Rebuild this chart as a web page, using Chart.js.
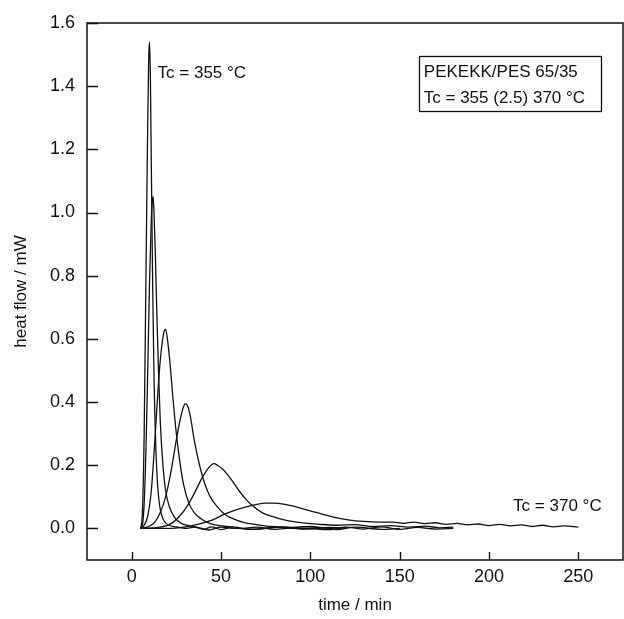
<!DOCTYPE html>
<html>
<head>
<meta charset="utf-8">
<script src="https://cdn.jsdelivr.net/npm/chart.js@4/dist/chart.umd.min.js"></script>
<style>
  html, body { margin: 0; padding: 0; background: #fff; }
  #chart { display: block; }
</style>
</head>
<body>
<canvas id="chart" width="624" height="619"></canvas>
<script>
// tick labels
var xTickValues = [0, 50, 100, 150, 200, 250];
var yTickValues = [0.0, 0.2, 0.4, 0.6, 0.8, 1.0, 1.2, 1.4, 1.6];

// isothermal crystallisation curves, time / min and heat flow / mW
var tcLabels = ['355', '357.5', '360', '362.5', '365', '370'];

var time1 = [5, 6, 7, 8, 8.8, 9.5, 10, 10.5, 11, 11.8, 12.5, 13.5, 14.5, 16, 18, 21, 25, 30, 35, 40, 45, 50, 55, 60, 70, 80, 90, 100, 110, 120];
var heat1 = [0, 0.05, 0.3, 0.8, 1.2, 1.48, 1.54, 1.42, 1.15, 0.75, 0.48, 0.26, 0.14, 0.06, 0.025, 0.01, 0.005, 0.0, 0.004, -0.003, 0.005, -0.004, 0.002, 0.0, -0.003, 0.004, 0.0, -0.002, 0.003, 0.001];

var time2 = [5, 6, 7, 8, 9, 10, 11, 11.6, 12, 12.5, 13.2, 14, 15, 16, 17.5, 19, 21, 24, 28, 33, 38, 43, 50, 60, 70, 80, 90, 100, 110, 120];
var heat2 = [0, 0.01, 0.08, 0.25, 0.5, 0.78, 0.98, 1.04, 1.05, 1.0, 0.88, 0.7, 0.5, 0.34, 0.2, 0.12, 0.07, 0.035, 0.015, 0.008, 0.002, -0.005, 0.004, 0.0, 0.004, -0.003, 0.002, 0.0, -0.004, 0.003];

var time3 = [5, 7, 9, 11, 13, 15, 16.5, 18, 19, 20, 21.5, 23, 25, 27, 29, 32, 35, 39, 44, 50, 58, 66, 75, 85, 95, 105, 115, 125, 140, 150];
var heat3 = [0, 0.01, 0.04, 0.12, 0.28, 0.46, 0.56, 0.62, 0.63, 0.6, 0.52, 0.42, 0.3, 0.21, 0.14, 0.08, 0.05, 0.03, 0.015, 0.008, 0.004, -0.003, 0.0, 0.005, -0.002, 0.003, -0.004, 0.004, -0.003, 0.0];

var time4 = [5, 9, 13, 16, 19, 22, 25, 27, 29, 30, 31.5, 33, 35, 38, 41, 44, 48, 52, 57, 63, 70, 78, 88, 100, 110, 120, 130, 140, 150, 160, 170, 180];
var heat4 = [0, 0.005, 0.02, 0.05, 0.1, 0.18, 0.28, 0.34, 0.385, 0.395, 0.385, 0.35, 0.28, 0.2, 0.14, 0.1, 0.068, 0.045, 0.03, 0.018, 0.012, 0.006, 0.003, 0.006, 0.0, 0.004, -0.002, 0.005, -0.003, 0.003, -0.002, 0.0];

var time5 = [5, 15, 22, 27, 31, 35, 38, 41, 44, 46, 48, 51, 54, 57, 60, 64, 68, 73, 79, 86, 95, 105, 115, 125, 135, 145, 155, 165, 172, 180];
var heat5 = [0, 0.003, 0.015, 0.04, 0.07, 0.11, 0.145, 0.175, 0.198, 0.205, 0.2, 0.187, 0.168, 0.145, 0.12, 0.092, 0.07, 0.05, 0.037, 0.026, 0.018, 0.013, 0.01, 0.012, 0.006, 0.009, 0.004, 0.007, 0.002, 0.004];

var time6 = [5, 20, 30, 38, 45, 52, 58, 64, 70, 75, 80, 85, 90, 96, 102, 108, 115, 122, 130, 138, 146, 152, 158, 164, 170, 176, 182, 188, 194, 200, 206, 212, 218, 224, 230, 236, 242, 250];
var heat6 = [0, 0.0, 0.005, 0.014, 0.026, 0.045, 0.058, 0.068, 0.076, 0.08, 0.08, 0.077, 0.071, 0.062, 0.052, 0.043, 0.033, 0.026, 0.022, 0.02, 0.02, 0.016, 0.02, 0.015, 0.018, 0.013, 0.016, 0.011, 0.014, 0.009, 0.013, 0.008, 0.011, 0.006, 0.01, 0.005, 0.008, 0.004];

var allTimes = [time1, time2, time3, time4, time5, time6];
var allHeats = [heat1, heat2, heat3, heat4, heat5, heat6];

// text notes in data units: [x, y, text]
var notes = [
    [14.5, 1.44, 'Tc = 355 °C'],
    [213.5, 0.07, 'Tc = 370 °C']
];
var boxLines = ['PEKEKK/PES 65/35', 'Tc = 355 (2.5) 370 °C'];

var ink = '#111111';
var fontFamily = '"Liberation Sans", Arial, sans-serif';

var datasets = allTimes.map(function (t, i) {
    return {
        label: 'Tc = ' + tcLabels[i] + ' °C',
        data: t.map(function (v, j) { return { x: v, y: allHeats[i][j] }; }),
        borderColor: ink,
        borderWidth: 1.3,
        pointRadius: 0,
        fill: false,
        cubicInterpolationMode: 'monotone'
    };
});

var framePlugin = {
    id: 'frameAndNotes',
    afterDraw: function (chart) {
        var ctx = chart.ctx;
        var a = chart.chartArea;
        var xs = chart.scales.x, ys = chart.scales.y;
        ctx.save();
        ctx.strokeStyle = ink;
        ctx.lineWidth = 1.5;
        ctx.strokeRect(a.left, a.top, a.right - a.left, a.bottom - a.top);

        // inward ticks
        ctx.lineWidth = 1.4;
        ctx.beginPath();
        xTickValues.forEach(function (v) {
            var px = Math.round(xs.getPixelForValue(v)) + 0.5;
            ctx.moveTo(px, a.bottom);
            ctx.lineTo(px, a.bottom - 8);
        });
        yTickValues.forEach(function (v) {
            var py = Math.round(ys.getPixelForValue(v)) + 0.5;
            ctx.moveTo(a.left, py);
            ctx.lineTo(a.left + 11, py);
        });
        ctx.stroke();

        // notes
        ctx.fillStyle = ink;
        ctx.font = '17px ' + fontFamily;
        ctx.textBaseline = 'middle';
        ctx.textAlign = 'left';
        notes.forEach(function (n) {
            ctx.fillText(n[2], xs.getPixelForValue(n[0]), ys.getPixelForValue(n[1]));
        });

        // box
        var bx0 = xs.getPixelForValue(160.7), bx1 = xs.getPixelForValue(262.8);
        var by0 = ys.getPixelForValue(1.496), by1 = ys.getPixelForValue(1.322);
        ctx.lineWidth = 1.3;
        ctx.strokeRect(Math.round(bx0) + 0.5, Math.round(by0) + 0.5, Math.round(bx1 - bx0), Math.round(by1 - by0));
        ctx.fillText(boxLines[0], xs.getPixelForValue(163.5), ys.getPixelForValue(1.445));
        ctx.fillText(boxLines[1], xs.getPixelForValue(163.5), ys.getPixelForValue(1.363));
        ctx.restore();
    }
};

new Chart(document.getElementById('chart'), {
    type: 'line',
    data: { datasets: datasets },
    options: {
        responsive: false,
        animation: false,
        layout: { padding: { left: 0, top: 23, right: 1, bottom: 0 } },
        plugins: {
            legend: { display: false },
            tooltip: { enabled: false }
        },
        scales: {
            x: {
                type: 'linear',
                min: -25,
                max: 275,
                afterBuildTicks: function (scale) {
                    scale.ticks = xTickValues.map(function (v) { return { value: v }; });
                },
                afterFit: function (scale) { scale.height = 59; },
                grid: { display: false, drawTicks: false },
                border: { display: false },
                ticks: {
                    padding: 6,
                    color: ink,
                    font: { family: fontFamily, size: 18 },
                    maxRotation: 0
                },
                title: {
                    display: true,
                    text: 'time / min',
                    color: ink,
                    font: { family: fontFamily, size: 17 },
                    padding: { top: 0, bottom: 3 }
                }
            },
            y: {
                type: 'linear',
                min: -0.1,
                max: 1.6,
                afterBuildTicks: function (scale) {
                    scale.ticks = yTickValues.map(function (v) { return { value: v }; });
                },
                afterFit: function (scale) { scale.width = 87; },
                grid: { display: false, drawTicks: false },
                border: { display: false },
                ticks: {
                    padding: 12,
                    color: ink,
                    font: { family: fontFamily, size: 18 },
                    callback: function (value) { return value.toFixed(1); }
                },
                title: {
                    display: true,
                    text: 'heat flow / mW',
                    color: ink,
                    font: { family: fontFamily, size: 17 },
                    padding: { top: 11, bottom: 0 }
                }
            }
        }
    },
    plugins: [framePlugin]
});
</script>
</body>
</html>
